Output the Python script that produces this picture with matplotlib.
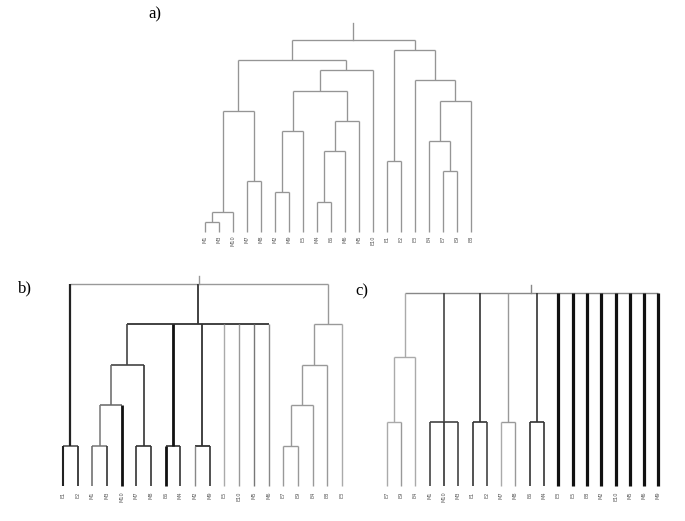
import matplotlib
matplotlib.use("Agg")
import matplotlib.pyplot as plt

# ---------------- data ----------------
a_leaves = ["M1", "M3", "M10", "M7", "M8", "M2", "M9", "E5", "M4", "E6",
            "M6", "M5", "E10", "E1", "E2", "E3", "E4", "E7", "E9", "E8"]
a_merges = [
    (["M1", "M3"], 1), (["n0", "M10"], 2), (["M4", "E6"], 3), (["M2", "M9"], 4),
    (["M7", "M8"], 5), (["E7", "E9"], 6), (["E1", "E2"], 7), (["n2", "M6"], 8),
    (["E4", "n5"], 9), (["n3", "E5"], 10), (["n7", "M5"], 11), (["n1", "n4"], 12),
    (["n8", "E8"], 13), (["n9", "n10"], 14), (["E3", "n12"], 15), (["n13", "E10"], 16),
    (["n11", "n15"], 17), (["n6", "n14"], 18), (["n16", "n17"], 19),
]

b_leaves = ["E1", "E2", "M1", "M3", "M10", "M7", "M8", "E6", "M4", "M2",
            "M9", "E5", "E10", "M5", "M6", "E7", "E9", "E4", "E8", "E3"]
b_merges = [
    (["E1", "E2"], 1), (["M1", "M3"], 1), (["M7", "M8"], 1), (["E6", "M4"], 1),
    (["M2", "M9"], 1), (["E7", "E9"], 1), (["n1", "M10"], 2), (["n5", "E4"], 2),
    (["n6", "n2"], 3), (["n7", "E8"], 3),
    (["n8", "n3", "n4", "E5", "E10", "M5", "M6"], 4), (["n9", "E3"], 4),
    (["n0", "n10", "n11"], 5),
]

c_leaves = ["E7", "E9", "E4", "M1", "M10", "M3", "E1", "E2", "M7", "M8",
            "E6", "M4", "E3", "E5", "E8", "M2", "E10", "M5", "M6", "M9"]
c_merges = [
    (["E7", "E9"], 1), (["M1", "M10", "M3"], 1), (["E1", "E2"], 1),
    (["M7", "M8"], 1), (["E6", "M4"], 1), (["n0", "E4"], 2),
    (["n5", "n1", "n2", "n3", "n4", "E3", "E5", "E8", "M2", "E10", "M5", "M6", "M9"], 3),
]

# ---------------- styles ----------------
a_style = {}
b_style = {
    "E1": ("#222222", 1.5), "E2": ("#333333", 1.3), "M1": ("#666666", 1.1),
    "M3": ("#333333", 1.2), "M10": ("#111111", 2.0), "M7": ("#333333", 1.2),
    "M8": ("#333333", 1.2), "E6": ("#111111", 2.0), "M4": ("#333333", 1.2),
    "M2": ("#888888", 1.0), "M9": ("#333333", 1.2), "E5": ("#aaaaaa", 1.0),
    "E10": ("#999999", 1.0), "M5": ("#777777", 1.0), "M6": ("#888888", 1.0),
    "E3": ("#aaaaaa", 1.0),
    "n0": ("#222222", 1.6), "n1": ("#777777", 1.1), "n6": ("#666666", 1.1),
    "n2": ("#333333", 1.2), "n8": ("#444444", 1.2), "n3": ("#111111", 2.0),
    "n4": ("#333333", 1.3), "n10": ("#333333", 1.3),
}
b_hstyle = {"n0": ("#444444", 1.1), "n3": ("#333333", 1.2)}
c_style = {
    "E7": ("#aaaaaa", 1.0), "E9": ("#999999", 1.0), "E4": ("#aaaaaa", 1.0),
    "M1": ("#444444", 1.2), "M10": ("#333333", 1.2), "M3": ("#444444", 1.2),
    "E1": ("#333333", 1.2), "E2": ("#444444", 1.2), "M7": ("#aaaaaa", 1.0),
    "M8": ("#999999", 1.0), "E6": ("#333333", 1.2), "M4": ("#333333", 1.2),
    "n0": ("#aaaaaa", 1.0), "n5": ("#aaaaaa", 1.0), "n1": ("#444444", 1.2),
    "n2": ("#333333", 1.2), "n3": ("#999999", 1.0), "n4": ("#333333", 1.2),
    "n6": ("#888888", 1.0),
}
for nm in ["E3", "E5", "E8", "M2", "E10", "M5", "M6", "M9"]:
    c_style[nm] = ("#111111", 2.3)

W, H = 685, 521
fig = plt.figure(figsize=(W / 100, H / 100), dpi=100)


def make_ax(x0px, dx, y0px, dy, ymax):
    left = x0px - 0.5 * dx
    width = 20 * dx
    top = y0px - ymax * dy
    ax = fig.add_axes([left / W, 1 - y0px / H, width / W, (y0px - top) / H])
    ax.set_xlim(-0.5, 19.5)
    ax.set_ylim(0, ymax)
    ax.axis("off")
    return ax


def draw_tree(ax, leaves, merges, style, default, stem_top, label_off,
              hstyle=None, fs=3.6):
    hstyle = hstyle or {}
    pos = {nm: (float(i), 0.0) for i, nm in enumerate(leaves)}
    parent_h = {}
    for k, (ch, h) in enumerate(merges):
        xs = [pos[c][0] for c in ch]
        pos["n%d" % k] = ((min(xs) + max(xs)) / 2, h)
        for c in ch:
            parent_h[c] = h

    def st(nm):
        return style.get(nm, default)
    for k, (ch, h) in enumerate(merges):
        nm = "n%d" % k
        col, lw = hstyle.get(nm, st(nm))
        xs = [pos[c][0] for c in ch]
        ax.plot([min(xs), max(xs)], [h, h], color=col, lw=lw, clip_on=False,
                solid_capstyle="butt")
    for nm, (x, y) in pos.items():
        col, lw = st(nm)
        if nm in parent_h:
            ax.plot([x, x], [y, parent_h[nm]], color=col, lw=lw, clip_on=False,
                    solid_capstyle="butt")
    root = "n%d" % (len(merges) - 1)
    rx, ry = pos[root]
    col, lw = st(root)
    ax.plot([rx, rx], [ry, stem_top], color=col, lw=lw, clip_on=False)
    for i, nm in enumerate(leaves):
        ax.annotate(nm, xy=(i, 0), xytext=(0, -label_off), textcoords="offset points",
                    rotation=90, ha="center", va="top", fontsize=fs, color="#555555")


ax_a = make_ax(205, 14.0, 232, 10.1, 21)
draw_tree(ax_a, a_leaves, a_merges, a_style, ("#959595", 0.95), 20.7, 2.5)

ax_b = make_ax(63, 14.68, 486, 40.4, 5.5)
draw_tree(ax_b, b_leaves, b_merges, b_style, ("#999999", 1.0), 5.2, 4.0, b_hstyle)

ax_c = make_ax(386.7, 14.3, 486, 64.3, 3.3)
draw_tree(ax_c, c_leaves, c_merges, c_style, ("#999999", 1.0), 3.13, 4.0)

serif = ["Liberation Serif", "DejaVu Serif"]
fig.text(148 / W, 1 - 14 / H, "a)", family=serif, fontsize=12, va="center", ha="left")
fig.text(18 / W, 1 - 288 / H, "b)", family=serif, fontsize=12, va="center", ha="left")
fig.text(355 / W, 1 - 291 / H, "c)", family=serif, fontsize=12, va="center", ha="left")

fig.savefig("out.png", dpi=100, facecolor="white")
